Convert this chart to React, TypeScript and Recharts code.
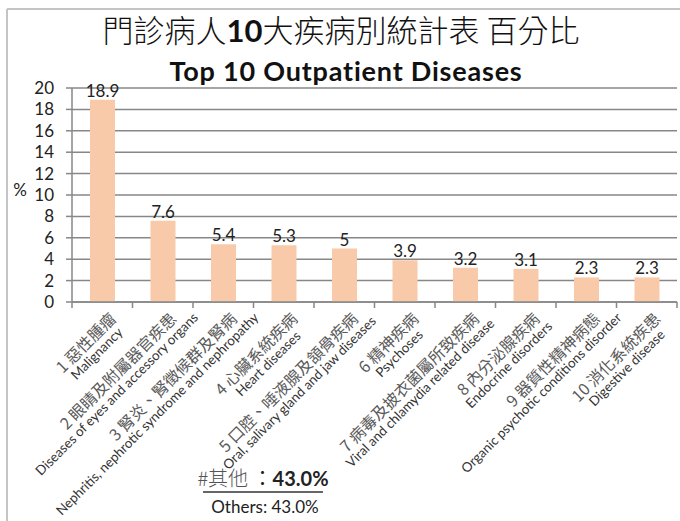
import { Bar, BarChart, CartesianGrid, LabelList, XAxis, YAxis } from "recharts";

const zhLabels = [
  "1 惡性腫瘤",
  "2 眼睛及附屬器官疾患",
  "3 腎炎、腎徵候群及腎病",
  "4 心臟系統疾病",
  "5 口腔、唾液腺及頷骨疾病",
  "6 精神疾病",
  "7 病毒及披衣菌屬所致疾病",
  "8 內分泌腺疾病",
  "9 器質性精神病態",
  "10 消化系統疾患",
];
const enLabels = [
  "Malignancy",
  "Diseases of eyes and accessory organs",
  "Nephritis, nephrotic syndrome and nephropathy",
  "Heart diseases",
  "Oral, salivary gland and jaw diseases",
  "Psychoses",
  "Viral and chlamydia related disease",
  "Endocrine disorders",
  "Organic psychotic conditions disorder",
  "Digestive disease",
];
const percents = [18.9, 7.6, 5.4, 5.3, 5, 3.9, 3.2, 3.1, 2.3, 2.3];
const yTicks = [0, 2, 4, 6, 8, 10, 12, 14, 16, 18, 20];

const data = percents.map((v, i) => ({ name: String(i), value: v }));

const W = 680;
const H = 521;
const PLOT_LEFT = 72;
const PLOT_RIGHT = 677;
const PLOT_TOP = 88;
const PLOT_BOTTOM = 302;
const SLOT = (PLOT_RIGHT - PLOT_LEFT) / percents.length;
const GRID = "#878787";
const ZH_FONT = '16px "Noto Sans CJK TC"';
const EN_FONT = '13.3px Lato';

let ctx: CanvasRenderingContext2D | null = null;
function measure(s: string, font: string) {
  if (!ctx) ctx = document.createElement("canvas").getContext("2d");
  if (!ctx) return s.length * 8;
  ctx.font = font;
  return ctx.measureText(s).width;
}

function CategoryTick(props: any) {
  const { x, payload } = props;
  const i = Number(payload.value);
  const zh = zhLabels[i];
  const en = enLabels[i];
  const shift = Math.max(-10, Math.min(16, (measure(en, EN_FONT) - measure(zh, ZH_FONT)) / 2));
  const left = x - SLOT / 2;
  return (
    <g>
      <line x1={left} y1={PLOT_BOTTOM} x2={left} y2={PLOT_BOTTOM + 6} stroke={GRID} strokeWidth={1.5} />
      {i === percents.length - 1 && (
        <line x1={x + SLOT / 2} y1={PLOT_BOTTOM} x2={x + SLOT / 2} y2={PLOT_BOTTOM + 6} stroke={GRID} strokeWidth={1.5} />
      )}
      <g transform={`translate(${x + 5},${PLOT_BOTTOM + 8}) rotate(-45)`}>
        <text textAnchor="end" y={14} fill="#5a5a5a" style={{ font: ZH_FONT }}>
          {zh}
        </text>
        <text textAnchor="end" x={shift} y={28} fill="#333" style={{ font: EN_FONT }}>
          {en}
        </text>
      </g>
    </g>
  );
}

export default function App() {
  return (
    <div style={{ position: "fixed", left: 0, top: 0, width: W, height: H, background: "#fff" }}>
      <BarChart
        width={W}
        height={H}
        data={data}
        margin={{ top: PLOT_TOP, right: W - PLOT_RIGHT, bottom: 0, left: 0 }}
        barCategoryGap={0}
      >
        <CartesianGrid stroke={GRID} strokeWidth={1.5} vertical={false} />
        <XAxis
          dataKey="name"
          interval={0}
          height={H - PLOT_BOTTOM}
          tickLine={false}
          tick={<CategoryTick />}
          stroke={GRID}
          strokeWidth={1.5}
        />
        <YAxis
          width={PLOT_LEFT}
          domain={[0, 20]}
          ticks={yTicks}
          interval={0}
          tickSize={6}
          tickMargin={12}
          stroke={GRID}
          strokeWidth={1.5}
          tick={{ fill: "#222", fontSize: 17, fontFamily: "Lato" }}
        />
        <Bar dataKey="value" fill="#f8caa9" barSize={25} isAnimationActive={false}>
          <LabelList dataKey="value" position="top" offset={3} fill="#222" fontSize={17} fontFamily="Lato" />
        </Bar>
      </BarChart>
      <svg width={W} height={H} style={{ position: "absolute", left: 0, top: 0, pointerEvents: "none" }}>
        <line x1={7} y1={9} x2={W} y2={9} stroke="#c4c4c4" strokeWidth={2} />
        <line x1={7} y1={9} x2={7} y2={H} stroke="#c4c4c4" strokeWidth={2} />
        <text x={341} y={42} textAnchor="middle" fill="#111" style={{ font: '300 31px "Noto Sans CJK TC"' }}>
          門診病人<tspan fontWeight="bold" fontFamily="Lato">10</tspan>大疾病別統計表 百分比
        </text>
        <text x={346} y={81} textAnchor="middle" fill="#111" style={{ font: "bold 27px Lato", letterSpacing: 0.8 }}>
          Top 10 Outpatient Diseases
        </text>
        <text x={20} y={196} textAnchor="middle" fill="#222" style={{ font: "17px Lato" }}>
          %
        </text>
        <text x={263} y={486} textAnchor="middle" fill="#222" style={{ font: '20px "Noto Sans CJK TC"' }}>
          <tspan fill="#555" fontWeight="300">#其他</tspan> ：<tspan fontFamily="Lato" fontWeight="bold">43.0%</tspan>
        </text>
        <line x1={203} y1={492} x2={323} y2={492} stroke="#333" strokeWidth={1.5} />
        <text x={265} y={513} textAnchor="middle" fill="#222" style={{ font: "17px Lato" }}>
          Others: 43.0%
        </text>
      </svg>
    </div>
  );
}
